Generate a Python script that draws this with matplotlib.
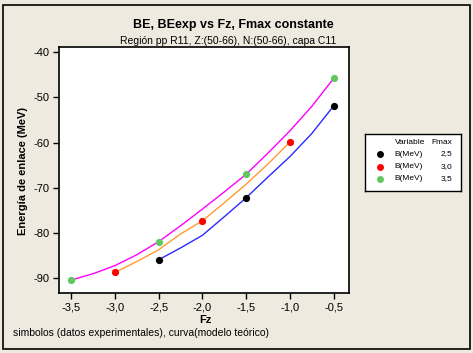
import matplotlib.pyplot as plt
from matplotlib.patches import Rectangle
from matplotlib.ticker import FuncFormatter

plt.rcParams['font.family'] = ['Liberation Sans', 'DejaVu Sans']

# experimental points (symbols)
fz_25 = [-2.5, -1.5, -0.5]
be_25 = [-85.9, -72.2, -51.9]
fz_30 = [-3.0, -2.0, -1.0]
be_30 = [-88.7, -77.3, -59.9]
fz_35 = [-3.5, -2.5, -1.5, -0.5]
be_35 = [-90.4, -81.9, -67.0, -45.8]

# model curves
cx_25 = [-2.5, -2.25, -2.0, -1.75, -1.5, -1.25, -1.0, -0.75, -0.5]
cy_25 = [-85.9, -83.3, -80.5, -76.4, -72.2, -67.6, -63.1, -58.0, -51.9]
cx_30 = [-3.0, -2.75, -2.5, -2.25, -2.0, -1.75, -1.5, -1.25, -1.0]
cy_30 = [-88.7, -86.3, -83.7, -80.2, -77.3, -73.3, -69.2, -64.7, -59.9]
cx_35 = [-3.5, -3.25, -3.0, -2.75, -2.5, -2.25, -2.0, -1.75, -1.5, -1.25, -1.0, -0.75, -0.5]
cy_35 = [-90.4, -89.0, -87.2, -84.8, -81.9, -78.4, -74.7, -70.9, -67.0, -62.3, -57.4, -52.0, -45.8]

fmax_labels = ['2,5', '3,0', '3,5']
marker_colors = ['black', '#ff0000', '#60c860']

W, H = 473, 353
bg = '#eeeae0'
fig = plt.figure(figsize=(W / 100, H / 100), dpi=100, facecolor=bg)

# outer frame of the graph window
fig.patches.append(Rectangle((3 / W, 1 - 349 / H), 467 / W, 344 / H, transform=fig.transFigure,
                             fill=False, edgecolor='black', linewidth=1.2))

ax = fig.add_axes([59 / W, 1 - 292.7 / H, 290.3 / W, 245.4 / H])
ax.set_facecolor('white')

ax.plot(cx_25, cy_25, color='#2a2aff', linewidth=1)
ax.plot(cx_30, cy_30, color='#ff9a30', linewidth=1)
ax.plot(cx_35, cy_35, color='#ff00ff', linewidth=1)

for x, y, c in zip([fz_25, fz_30, fz_35], [be_25, be_30, be_35], marker_colors):
    ax.plot(x, y, 'o', color=c, markersize=5.2, markeredgewidth=0, zorder=3)

ax.set_xlim(-3.64, -0.32)
ax.set_ylim(-93.2, -38.9)
ax.set_xticks([-3.5, -3.0, -2.5, -2.0, -1.5, -1.0, -0.5])
ax.set_yticks([-40, -50, -60, -70, -80, -90])
ax.xaxis.set_major_formatter(FuncFormatter(lambda v, p: f"{v:.1f}".replace('.', ',')))
ax.yaxis.set_major_formatter(FuncFormatter(lambda v, p: f"{v:.0f}"))
ax.tick_params(labelsize=8, length=4, width=1, pad=3)
for s in ax.spines.values():
    s.set_linewidth(1.2)

fig.text(233 / W, 1 - 25 / H, 'BE, BEexp vs Fz, Fmax constante', ha='center', va='center',
         fontsize=9, fontweight='bold')
fig.text(228 / W, 1 - 41 / H, 'Región pp R11, Z:(50-66), N:(50-66), capa C11', ha='center', va='center',
         fontsize=7.5)
fig.text(23 / W, 1 - 171 / H, 'Energía de enlace (MeV)', rotation=90, ha='center', va='center',
         fontsize=8, fontweight='bold')
fig.text(205 / W, 1 - 320 / H, 'Fz', ha='center', va='center', fontsize=8, fontweight='bold')
fig.text(13 / W, 1 - 333 / H, 'simbolos (datos experimentales), curva(modelo teórico)', ha='left',
         va='center', fontsize=7.5)

# legend box
lg = fig.add_axes([364.7 / W, 1 - 191 / H, 96.3 / W, 57 / H])
lg.set_xlim(0, 96.3)
lg.set_ylim(57, 0)
lg.set_xticks([])
lg.set_yticks([])
lg.set_facecolor('white')
for s in lg.spines.values():
    s.set_linewidth(1)
lg.text(30, 9, 'Variable', fontsize=6, va='center', ha='left')
lg.text(87.3, 9, 'Fmax', fontsize=6, va='center', ha='right')
for i, (lab, c) in enumerate(zip(fmax_labels, marker_colors)):
    yy = 20 + i * 12.5
    lg.plot([15.3], [yy], 'o', color=c, markersize=5, markeredgewidth=0)
    lg.text(30, yy, 'B(MeV)', fontsize=6, va='center', ha='left')
    lg.text(87.3, yy, lab, fontsize=6, va='center', ha='right')

fig.savefig('out.png', dpi=100, facecolor=bg)
